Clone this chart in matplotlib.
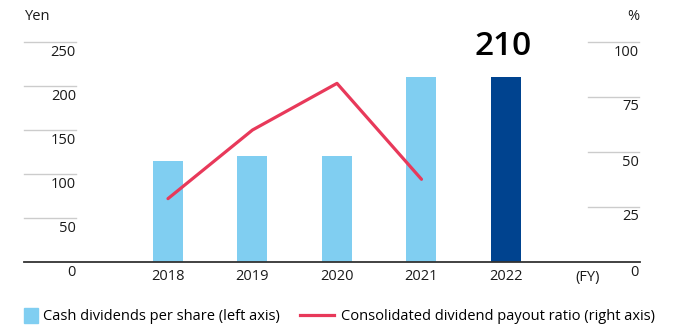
import matplotlib
matplotlib.use("Agg")
import numpy as np
import matplotlib.pyplot as plt
import matplotlib.transforms as mtransforms
from matplotlib.patches import Patch, Rectangle
from matplotlib.lines import Line2D
from matplotlib.legend_handler import HandlerPatch

plt.rcParams['font.family'] = ['Open Sans', 'DejaVu Sans']

# dividend data
years = ['2018', '2019', '2020', '2021', '2022']
dividends = [115, 120, 120, 210, 210]          # yen per share
payout = [28.8, 60.0, 81.2, 37.6]               # % (2018-2021)
yen_ticks = [50, 100, 150, 200, 250]
pct_ticks = [25, 50, 75, 100]

light_blue = '#80cef1'
dark_blue = '#00438f'
red = '#e8395a'
grid_col = '#cccccc'
txt_col = '#1a1a1a'

fig = plt.figure(figsize=(6.76, 3.27), dpi=100)
W, H = 676, 327
ax = fig.add_axes([24 / W, (H - 262) / H, 616 / W, 220 / H])
ax2 = ax.twinx()

x = np.arange(len(years))
colors = [light_blue] * 4 + [dark_blue]
ax.bar(x, dividends, width=0.355, color=colors, zorder=2)
ax2.plot(x[:4], payout, color=red, lw=2.3, solid_capstyle='round', zorder=3)

ax.set_xlim(-1.704, 5.586)
ax.set_ylim(0, 250)
ax2.set_ylim(0, 100)

for a in (ax, ax2):
    for s in a.spines.values():
        s.set_visible(False)
    a.set_xticks([])
    a.set_yticks([])
ax.spines['bottom'].set_visible(True)
ax.spines['bottom'].set_color('#333333')
ax.spines['bottom'].set_linewidth(1.3)
ax.spines['bottom'].set_zorder(4)

# short gridlines next to the tick labels
tl = mtransforms.blended_transform_factory(ax.transAxes, ax.transData)
tr = mtransforms.blended_transform_factory(ax2.transAxes, ax2.transData)
for v in yen_ticks:
    ax.plot([0, 0.0844], [v, v], color=grid_col, lw=1, transform=tl, clip_on=False)
for v in pct_ticks:
    ax2.plot([0.9156, 0.998], [v, v], color=grid_col, lw=1, transform=tr, clip_on=False)

fs = 10.5
below = mtransforms.offset_copy(tl, fig=fig, y=-10, units='dots')
below_r = mtransforms.offset_copy(tr, fig=fig, y=-10, units='dots')
for v in [0] + yen_ticks:
    ax.text(0.0844, v, str(v), transform=below, ha='right', va='center',
            fontsize=fs, color=txt_col)
for v in [0] + pct_ticks:
    ax2.text(0.998, v, str(v), transform=below_r, ha='right', va='center',
             fontsize=fs, color=txt_col)

# year labels under the baseline
xt = mtransforms.offset_copy(ax.transData, fig=fig, y=-15, units='dots')
for i, y in enumerate(years):
    ax.text(i, 0, y, transform=xt, ha='center', va='center', fontsize=fs, color=txt_col)
ax.text(0.9156, 0, '(FY)', transform=mtransforms.offset_copy(tl, fig=fig, y=-15, units='dots'),
        ha='center', va='center', fontsize=fs, color=txt_col)

fig.text(25 / W, 1 - 16.7 / H, 'Yen', ha='left', va='center', fontsize=fs, color=txt_col)
fig.text(639 / W, 1 - 16.7 / H, '%', ha='right', va='center', fontsize=fs, color=txt_col)

# value above the latest bar
ax.annotate(str(dividends[-1]), (x[-1], dividends[-1]), xytext=(-2, 22),
            textcoords='offset points', ha='center', va='center',
            fontsize=24, fontweight='semibold', color='black')


def small_square(legend, orig_handle, xdescent, ydescent, width, height, fontsize):
    side = 0.98 * fontsize
    return Rectangle((width - side + 1 - xdescent, -ydescent + height / 2 - side * 0.55),
                     side, side * 1.1)


handles = [Patch(color=light_blue), Line2D([], [], color=red, lw=2.3)]
labels = ['Cash dividends per share (left axis)',
          'Consolidated dividend payout ratio (right axis)']
fig.legend(handles, labels, loc='center left', bbox_to_anchor=(3 / W, 1 - 317 / H),
           ncol=2, frameon=False, fontsize=fs, handlelength=2.3, handletextpad=0.45,
           columnspacing=1.4, borderpad=0, borderaxespad=0,
           handler_map={Patch: HandlerPatch(patch_func=small_square)})

fig.savefig('out.png', dpi=100)
